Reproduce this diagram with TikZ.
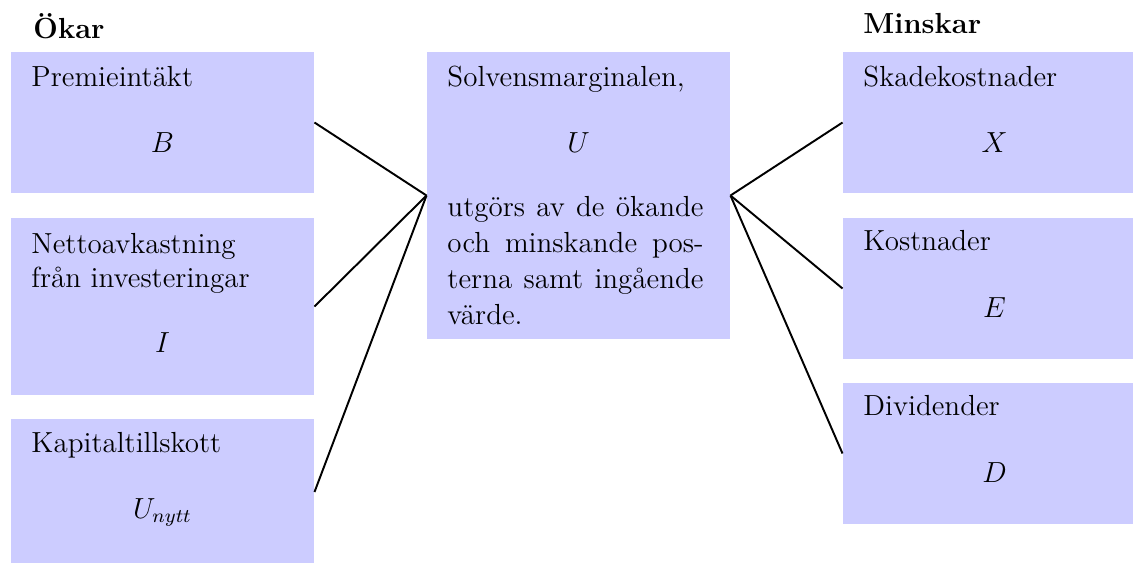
\documentclass[tikz,border=0pt]{standalone}
\begin{document}
\begin{tikzpicture}[x=0.4132pt,y=-0.4132pt,
  font=\fontsize{12}{14.5}\selectfont,
  box/.style={draw=none,fill=blue!20,rectangle,inner sep=0pt,minimum width=125.2pt},
  lbl/.style={inner sep=0pt,anchor=base west},
  sym/.style={inner sep=0pt,anchor=base},
  conn/.style={line width=0.8pt,black}]
\clip (0,0) rectangle (1133,562);
% boxes
\node[box,minimum height=58.26pt] (L1) at (162.5,122.5) {};
\node[box,minimum height=73.14pt] (L2) at (162.5,306.5) {};
\node[box,minimum height=60.33pt] (L3) at (162.5,492) {};
\node[box,minimum height=118.59pt] (C) at (578.5,195.5) {};
\node[box,minimum height=58.26pt] (R1) at (994.5,122.5) {};
\node[box,minimum height=58.26pt] (R2) at (994.5,288.5) {};
\node[box,minimum height=58.26pt] (R3) at (994.5,453.5) {};
% headings
\node[lbl] (okar) at (33,38) {\bfseries Ökar};
\node[lbl] (minskar) at (863,33) {\bfseries Minskar};
% left texts
\node[lbl] (t1) at (31,86) {Premieintäkt};
\node[sym] (s1) at (162.5,152) {$B$};
\node[lbl] (t2a) at (31,253) {Nettoavkastning};
\node[lbl] (t2b) at (31,287) {från investeringar};
\node[sym] (s2) at (162.5,352) {$I$};
\node[lbl] (t3) at (31,452) {Kapitaltillskott};
\node[sym] (s3) at (162.5,518) {$U_{nytt}$};
% center texts
\node[lbl] (tc) at (447,86) {Solvensmarginalen,};
\node[sym] (sc) at (578.5,152) {$U$};
\node[lbl,text width=105.8pt,align=justify,
  execute at begin node={\setlength{\baselineskip}{14.9pt}}] (pc) at (447,216)
  {utgörs av de ökande\linebreak och minskande pos-\linebreak terna samt ingående\linebreak värde.};
% right texts
\node[lbl] (r1) at (863,86) {Skadekostnader};
\node[sym] (rs1) at (994.5,152) {$X$};
\node[lbl] (r2) at (863,250) {Kostnader};
\node[sym] (rs2) at (994.5,317) {$E$};
\node[lbl] (r3) at (863,415) {Dividender};
\node[sym] (rs3) at (994.5,482) {$D$};
% connectors
\draw[conn] (L1.east) -- (C.west);
\draw[conn] (L2.east) -- (C.west);
\draw[conn] (L3.east) -- (C.west);
\draw[conn] (C.east) -- (R1.west);
\draw[conn] (C.east) -- (R2.west);
\draw[conn] (C.east) -- (R3.west);
\end{tikzpicture}
\end{document}
